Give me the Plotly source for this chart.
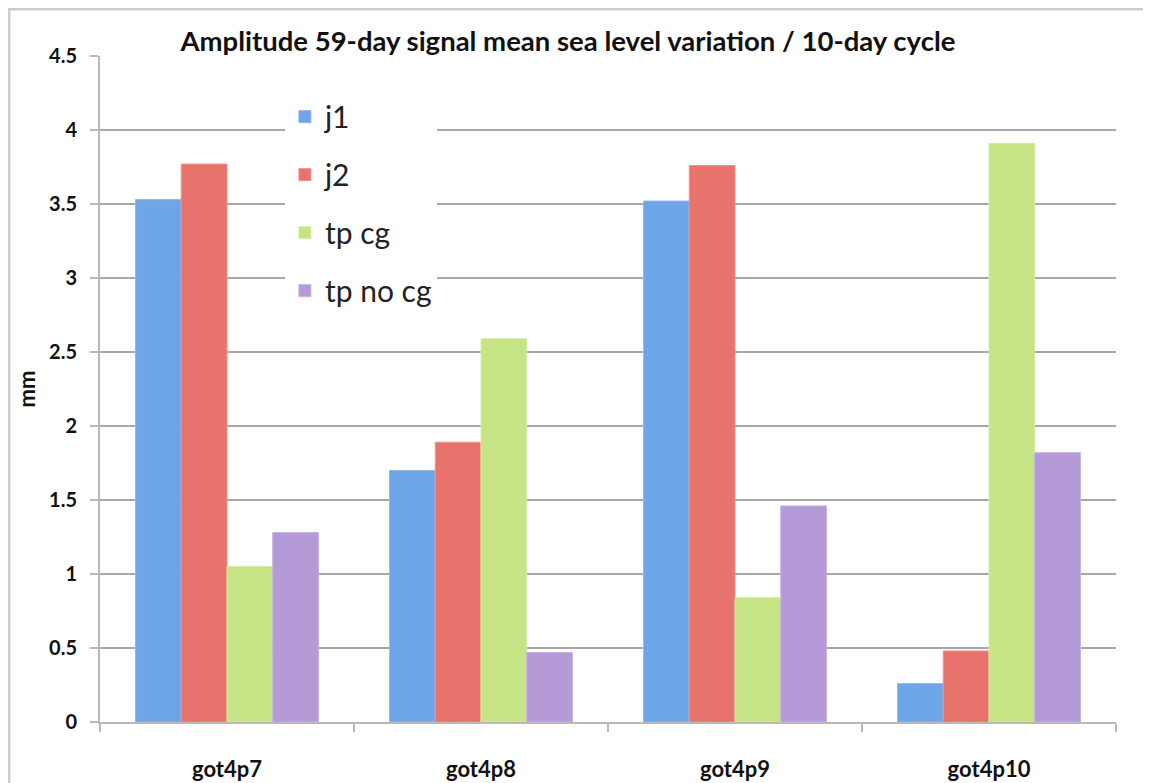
import plotly.graph_objects as go

categories = ["got4p7", "got4p8", "got4p9", "got4p10"]
series_names = ["j1", "j2", "tp cg", "tp no cg"]
j1 = [3.53, 1.70, 3.52, 0.26]
j2 = [3.77, 1.89, 3.76, 0.48]
tp_cg = [1.05, 2.59, 0.84, 3.91]
tp_no_cg = [1.28, 0.47, 1.46, 1.82]
y_ticks = [0, 0.5, 1, 1.5, 2, 2.5, 3, 3.5, 4, 4.5]
y_tick_labels = ["0", "0.5", "1", "1.5", "2", "2.5", "3", "3.5", "4", "4.5"]

values = [j1, j2, tp_cg, tp_no_cg]
colors = ["#6ea5e6", "#e8736c", "#c6e385", "#b49ad6"]
edge = ["#8fb8ec", "#ef918b", "#d6eca4", "#c6b2e2"]

fig = go.Figure()
for i, (name, vals) in enumerate(zip(series_names, values)):
    fig.add_trace(go.Bar(
        x=categories, y=vals, name=name,
        marker=dict(color=colors[i], line=dict(color=edge[i], width=1)),
        legendgroup=name,
    ))

FONT = "Lato, 'Open Sans', sans-serif"
fig.update_layout(
    width=1151, height=783,
    margin=dict(l=92, r=43, t=48, b=69, autoexpand=False),
    paper_bgcolor="white", plot_bgcolor="white",
    barmode="group", bargap=0.28, bargroupgap=0,
    title=dict(text="<b>Amplitude 59-day signal mean sea level variation / 10-day cycle</b>",
               x=0.4865, xanchor="center", y=0.957, yanchor="middle",
               font=dict(family=FONT, size=27.5, color="#111")),
    font=dict(family=FONT, color="#111"),
    showlegend=True,
    legend=dict(x=0.182, y=0.948, xanchor="left", yanchor="top",
                bgcolor="white", borderwidth=0,
                font=dict(family=FONT, size=30, color="#222"),
                tracegroupgap=16, itemwidth=30),
    xaxis=dict(
        showgrid=False, showline=True, linecolor="#b8b8b8", linewidth=2,
        ticks="outside", ticklen=8, tickcolor="#b8b8b8", tickwidth=2,
        tickson="boundaries", ticklabelstandoff=27,
        tickfont=dict(family=FONT, size=22, color="#111", weight="bold"),
    ),
    yaxis=dict(
        range=[0, 4.5], tickvals=y_ticks, ticktext=y_tick_labels,
        showgrid=True, gridcolor="#a8a8a8", gridwidth=2,
        showline=True, linecolor="#b8b8b8", linewidth=2,
        ticks="outside", ticklen=8, tickcolor="#b8b8b8", tickwidth=2,
        zeroline=False, ticklabelstandoff=9,
        tickfont=dict(family=FONT, size=20, color="#111", weight="bold"),
        title=dict(text="<b>mm</b>", standoff=7,
                   font=dict(family=FONT, size=22, color="#111")),
    ),
    shapes=[dict(type="rect", xref="paper", yref="paper",
                 x0=-0.0896, x1=1.06, y0=-0.15, y1=1.0706,
                 line=dict(color="#cccccc", width=3), fillcolor="rgba(0,0,0,0)",
                 layer="below")],
)

fig.write_html("out.html")
